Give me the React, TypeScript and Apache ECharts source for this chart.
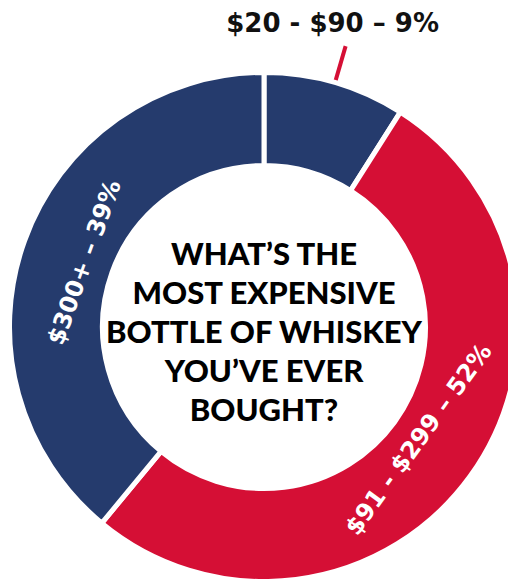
import React, { useEffect, useRef } from 'react';
import * as echarts from 'echarts';

const categories = ['$20 - $90', '$91 - $299', '$300+'];
const values = [9, 52, 39];
const colors = ['#253B6D', '#D50F35', '#253B6D'];
const question = ['WHAT’S THE', 'MOST EXPENSIVE', 'BOTTLE OF WHISKEY', 'YOU’VE EVER', 'BOUGHT?'];

const RED = '#D50F35';

export default function App() {
  const ref = useRef<HTMLDivElement>(null);
  useEffect(() => {
    const chart = echarts.init(ref.current!, null, { renderer: 'svg' });
    const base = categories.map((name, i) => ({ name, value: values[i] }));
    chart.setOption({
      animation: false,
      series: [
        {
          type: 'pie',
          center: [264, 327],
          radius: [161.5, 254.5],
          startAngle: 90,
          clockwise: true,
          silent: true,
          avoidLabelOverlap: false,
          itemStyle: { borderColor: '#ffffff', borderWidth: 5 },
          label: { show: false },
          labelLine: { show: false },
          data: base.map((d, i) =>
            i === 0
              ? {
                  ...d,
                  itemStyle: { color: colors[i] },
                  label: {
                    show: true,
                    position: 'outside',
                    formatter: '{b} – {c}%',
                    color: '#111111',
                    fontFamily: 'DejaVu Sans',
                    fontWeight: 'bold',
                    fontSize: 26,
                  },
                  labelLine: {
                    show: true,
                    length: 38,
                    length2: 0,
                    smooth: false,
                    lineStyle: { color: RED, width: 4, cap: 'butt' },
                  },
                }
              : { ...d, itemStyle: { color: colors[i] } }
          ),
          labelLayout: (p: any) => {
            if (p.dataIndex === 0 && p.labelLinePoints) {
              const pts = p.labelLinePoints;
              const end = pts[1];
              return {
                x: end[0] - 13,
                y: end[1] - 23,
                align: 'center',
                verticalAlign: 'middle',
                labelLinePoints: pts,
              };
            }
            return {};
          },
        },
        {
          type: 'pie',
          center: [264, 327],
          radius: [164, 212],
          startAngle: 90,
          clockwise: true,
          silent: true,
          avoidLabelOverlap: false,
          itemStyle: { color: 'rgba(0,0,0,0)', borderWidth: 0 },
          labelLine: { show: false },
          label: {
            show: true,
            position: 'inside',
            rotate: 'tangential',
            formatter: '{b} – {c}%',
            color: '#ffffff',
            fontFamily: 'DejaVu Sans',
            fontWeight: 'bold',
            fontSize: 24,
          },
          data: base.map((d, i) => (i === 0 ? { ...d, label: { show: false } } : d)),
        },
      ],
      graphic: [
        {
          type: 'text',
          x: 264,
          y: 331,
          silent: true,
          style: {
            text: question.join('\n'),
            fill: '#000000',
            fontFamily: 'Lato',
            fontWeight: 900,
            fontSize: 31,
            lineHeight: 39,
            align: 'center',
            verticalAlign: 'middle',
          },
        },
      ],
    });
    return () => chart.dispose();
  }, []);
  return (
    <div
      ref={ref}
      style={{ position: 'fixed', left: 0, top: 0, width: 508, height: 579, background: '#ffffff' }}
    />
  );
}
